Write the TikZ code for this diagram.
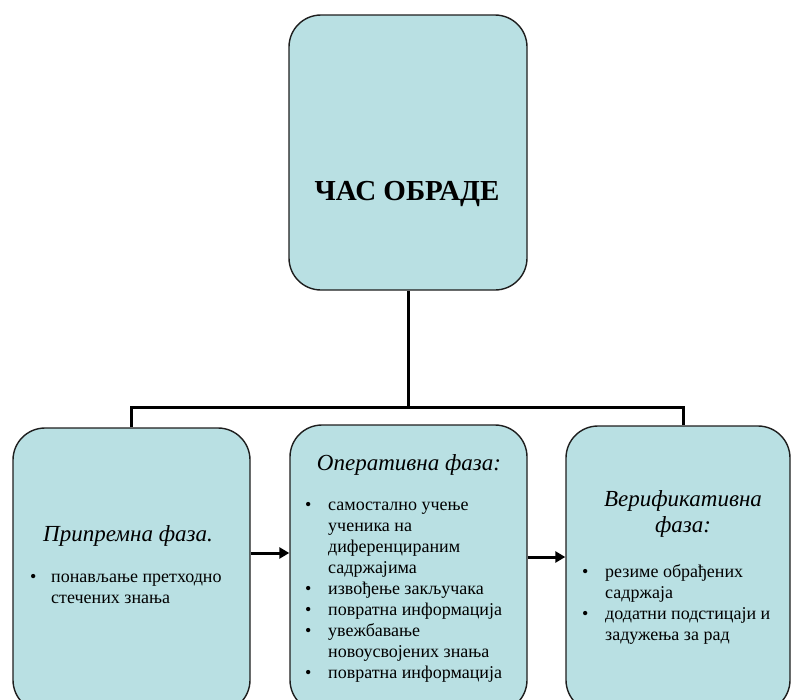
\documentclass[tikz,border=0pt]{standalone}
\usepackage{fontspec}
\setmainfont{Liberation Serif}
\usetikzlibrary{arrows.meta}
\definecolor{boxfill}{RGB}{185,224,227}
\definecolor{boxline}{RGB}{30,30,30}
\begin{document}
\begin{tikzpicture}[x=1pt,y=-1pt,
 phase/.style={draw=boxline, line width=1.4pt, fill=boxfill, rounded corners=32pt, inner sep=0pt, rectangle},
 conn/.style={line width=3pt, black},
 arr/.style={conn, -{Triangle[length=10pt,width=11pt]}},
 ttl/.style={font=\fontsize{23}{26}\selectfont\itshape, inner sep=0pt, anchor=base},
 lst/.style={font=\fontsize{18}{21}\selectfont, inner sep=0pt, anchor=base west}]
\useasboundingbox (0,0) rectangle (794,699);
\clip (0,0) rectangle (794,699);
\node[phase, minimum width=238pt, minimum height=275pt] (top) at (408,152.5) {};
\node[phase, minimum width=237pt, minimum height=284pt] (left) at (131.5,570) {};
\node[phase, minimum width=237pt, minimum height=287pt] (middle) at (408.5,568.5) {};
\node[phase, minimum width=224pt, minimum height=286pt] (right) at (678,569) {};

\node[font=\fontsize{29}{32}\selectfont\bfseries, inner sep=0pt, anchor=base] (toptext) at (407,200) {ЧАС ОБРАДЕ};

\coordinate (busL) at (left.north |- 0,407);
\coordinate (busR) at (683,407);
\draw[conn] (top.south) -- (top.south |- busL);
\draw[conn] (left.north) -- (busL) -- (busR) -- (busR |- right.north);
\coordinate (a1) at (0,553);
\coordinate (a2) at (0,557);
\draw[arr] (left.east |- a1) -- (middle.west |- a1);
\draw[arr] (middle.east |- a2) -- (right.west |- a2);

\node[ttl] (t1) at (128,541) {Припремна фаза.};
\node[ttl] (t2) at (409,470) {Оперативна фаза:};
\node[ttl] (t3) at (683,506) {\begin{tabular}[t]{@{}c@{}}Верификативна\\ фаза:\end{tabular}};

\node[lst] (l1) at (30,582) {\begin{tabular}[t]{@{}p{21pt}@{}l@{}}
\textbullet & понављање претходно\\
 & стечених знања
\end{tabular}};
\node[lst] (l2) at (305,510) {\begin{tabular}[t]{@{}p{23pt}@{}l@{}}
\textbullet & самостално учење\\
 & ученика на\\
 & диференцираним\\
 & садржајима\\
\textbullet & извођење закључака\\
\textbullet & повратна информација\\
\textbullet & увежбавање\\
 & новоусвојених знања\\
\textbullet & повратна информација
\end{tabular}};
\node[lst] (l3) at (582,577) {\begin{tabular}[t]{@{}p{23pt}@{}l@{}}
\textbullet & резиме обрађених\\
 & садржаја\\
\textbullet & додатни подстицаји и\\
 & задужења за рад
\end{tabular}};
\end{tikzpicture}
\end{document}
